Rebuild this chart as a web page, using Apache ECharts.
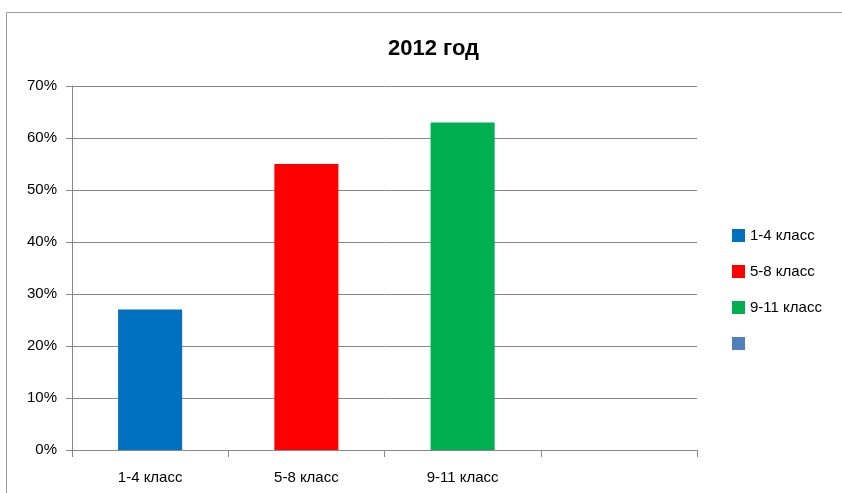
<!DOCTYPE html>
<html><head><meta charset="utf-8">
<script src="https://cdn.jsdelivr.net/npm/echarts@6/dist/echarts.min.js"></script>
<style>html,body{margin:0;padding:0;background:#fff}#c{width:842px;height:493px}</style>
</head><body><div id="c"></div>
<script>
const categories = ['1-4 класс', '5-8 класс', '9-11 класс', ''];
const seriesNames = ['1-4 класс', '5-8 класс', '9-11 класс', ' '];
const seriesColors = ['#0070C0', '#FF0000', '#00B050', '#4F81BD'];
const values = [27, 55, 63];
const yTicks = [0, 10, 20, 30, 40, 50, 60, 70];

const chart = echarts.init(document.getElementById('c'));
const font = 'Liberation Sans, Arial, sans-serif';
const series = seriesNames.map((name, i) => ({
  name: name,
  type: 'bar',
  stack: 'all',
  barWidth: '41%',
  itemStyle: { color: seriesColors[i] },
  data: categories.map((c, j) => (j === i && i < values.length) ? values[i] : null)
}));
chart.setOption({
  animation: false,
  textStyle: { fontFamily: font },
  title: {
    text: '2012 год', left: 383, top: 33,
    textStyle: { fontSize: 22, fontWeight: 'bold', color: '#000', fontFamily: font }
  },
  graphic: [{
    type: 'rect', shape: { x: 6.5, y: 12.5, width: 900, height: 600 },
    style: { fill: 'none', stroke: '#9a9a9a', lineWidth: 1 }
  }],
  legend: {
    orient: 'vertical', left: 727, top: 223, itemWidth: 13, itemHeight: 13, itemGap: 21,
    icon: 'rect',
    textStyle: { fontSize: 15, color: '#000', fontFamily: font },
    data: seriesNames
  },
  grid: { left: 72, right: 145, top: 86, bottom: 43 },
  xAxis: {
    type: 'category', data: categories,
    axisLine: { lineStyle: { color: '#888' } },
    axisTick: { show: true, length: 7, lineStyle: { color: '#888' } },
    axisLabel: { fontSize: 15, color: '#000', margin: 20, fontFamily: font }
  },
  yAxis: {
    type: 'value', min: yTicks[0], max: yTicks[yTicks.length - 1], interval: 10,
    axisLine: { show: true, lineStyle: { color: '#888' } },
    axisTick: { show: true, length: 6, lineStyle: { color: '#888' } },
    splitLine: { lineStyle: { color: '#888' } },
    axisLabel: { formatter: '{value}%', fontSize: 15, color: '#000', margin: 15, fontFamily: font }
  },
  series: series
});
</script></body></html>
